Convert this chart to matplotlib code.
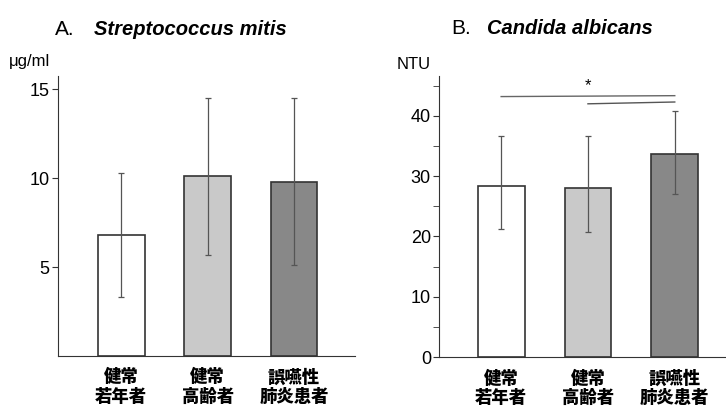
import numpy as np
import matplotlib.pyplot as plt

plt.rcParams['font.family'] = ['Liberation Sans', 'Noto Sans CJK JP', 'DejaVu Sans']

groups = ['健常\n若年者', '健常\n高齢者', '誤嚥性\n肺炎患者']
bar_colors = ['#ffffff', '#c9c9c9', '#888888']

# A. Streptococcus mitis (ug/ml)
mitis_mean = [6.8, 10.1, 9.8]
mitis_low = [3.3, 5.7, 5.1]
mitis_high = [10.3, 14.5, 14.5]

# B. Candida albicans (NTU)
candida_mean = [28.3, 28.1, 33.7]
candida_low = [21.3, 20.7, 27.1]
candida_high = [36.7, 36.7, 40.8]

fig = plt.figure(figsize=(7.26, 4.09), dpi=100)
axA = fig.add_axes([0.080, 0.130, 0.409, 0.684])
axB = fig.add_axes([0.605, 0.127, 0.395, 0.687])

x = np.arange(len(groups))


def draw_panel(ax, mean, low, high, ylim, xlim):
    ax.bar(x, mean, width=0.54, color=bar_colors, edgecolor='#333333', linewidth=1.2, zorder=2)
    yerr = [np.subtract(mean, low), np.subtract(high, mean)]
    ax.errorbar(x, mean, yerr=yerr, fmt='none', ecolor='#555555', elinewidth=0.9,
                capsize=2.5, capthick=0.9, zorder=3)
    ax.set_xlim(*xlim)
    ax.set_ylim(*ylim)
    ax.spines['top'].set_visible(False)
    ax.spines['right'].set_visible(False)
    ax.spines['left'].set_color('#333333')
    ax.spines['bottom'].set_color('#333333')
    ax.set_xticks(x)
    ax.set_xticklabels(groups, fontsize=12.5, fontweight='heavy',
                       family=['Noto Sans CJK JP'], linespacing=1.1)
    ax.tick_params(axis='x', length=0, pad=9)
    ax.tick_params(axis='y', labelsize=13, length=4, color='#333333', pad=2)


draw_panel(axA, mitis_mean, mitis_low, mitis_high, (0, 15.75), (-0.73, 2.705))
axA.set_yticks([5, 10, 15])
axA.text(-0.165, 1.035, 'μg/ml', transform=axA.transAxes, fontsize=12, ha='left')
fig.text(0.076, 0.915, 'A.', fontsize=15)
fig.text(0.130, 0.915, 'Streptococcus mitis', fontsize=14.5, fontweight='bold', style='italic')

draw_panel(axB, candida_mean, candida_low, candida_high, (0, 46.6), (-0.713, 2.59))
axB.set_yticks([0, 10, 20, 30, 40])
axB.set_yticks([5, 15, 25, 35, 45], minor=True)
axB.tick_params(axis='y', which='minor', length=4, color='#333333')
axB.text(-0.147, 1.025, 'NTU', transform=axB.transAxes, fontsize=12, ha='left')
fig.text(0.622, 0.918, 'B.', fontsize=15)
fig.text(0.671, 0.918, 'Candida albicans', fontsize=14.5, fontweight='bold', style='italic')

# significance brackets
axB.plot([0, 2], [43.2, 43.35], color='#666666', linewidth=1.0)
axB.plot([1, 2], [42.0, 42.3], color='#555555', linewidth=1.0)
axB.text(1, 43.7, '*', ha='center', va='bottom', fontsize=12)

fig.savefig('out.png', dpi=100)
